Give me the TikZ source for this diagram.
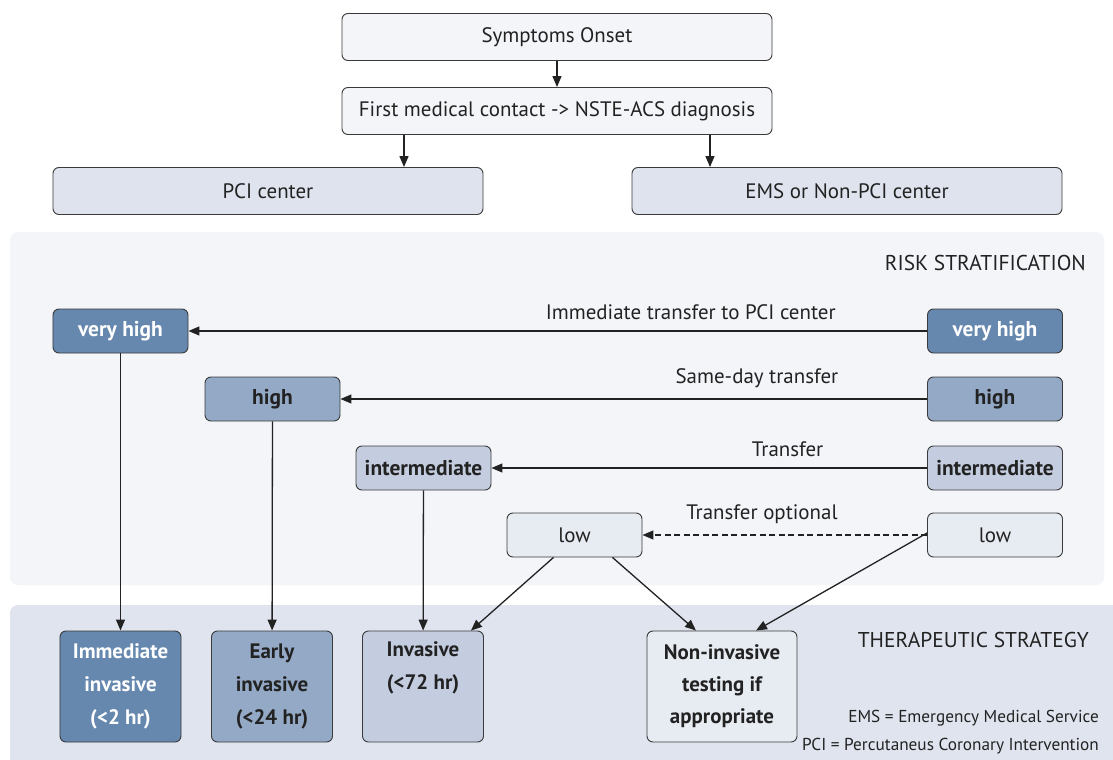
\documentclass[tikz,border=0pt]{standalone}
\usepackage{fontspec}
\setmainfont{PT Sans}
\usetikzlibrary{arrows.meta}
\definecolor{vh}{HTML}{6688AE}
\definecolor{hi}{HTML}{93A9C6}
\definecolor{im}{HTML}{C4CDE0}
\definecolor{lo}{HTML}{E7EBF2}
\definecolor{pale}{HTML}{F4F5F9}
\definecolor{ctr}{HTML}{DEE3ED}
\definecolor{riskbg}{HTML}{F3F5F9}
\definecolor{therbg}{HTML}{DFE4EE}
\definecolor{edge}{HTML}{3A3A3A}
\definecolor{ink}{HTML}{222222}
\begin{document}
\begin{tikzpicture}[x=1bp,y=-1bp,
  box/.style={draw=edge, line width=0.9bp, rounded corners=6bp, inner sep=0pt, text=ink,
    font=\fontsize{21}{24}\selectfont},
  topbox/.style={box, minimum width=430bp, minimum height=47bp},
  riskbox/.style={box, minimum width=135bp, minimum height=44bp, font=\fontsize{21.5}{24}\selectfont\bfseries},
  stratbox/.style={box, minimum width=121bp, minimum height=111bp, align=center,
    font=\fontsize{21}{33}\selectfont\bfseries},
  arr/.style={draw=ink, line width=1.3bp, -{Triangle[length=11bp,width=9bp]}},
  lbl/.style={font=\fontsize{21}{24}\selectfont, text=ink, inner sep=0pt, above=11bp},
  heading/.style={font=\fontsize{21.5}{24}\selectfont, text=ink, inner sep=0pt, anchor=east},
  legend/.style={font=\fontsize{17.3}{20}\selectfont, text=ink, inner sep=0pt, anchor=east}
]
\useasboundingbox (0,0) rectangle (1113,760);
\fill[white] (0,0) rectangle (1113,760);
% panels
\fill[riskbg, rounded corners=8bp] (10,232) rectangle (1104,585);
\begin{scope}
  \clip (0,0) rectangle (1113,760);
  \fill[therbg, rounded corners=8bp] (10,605) rectangle (1130,780);
\end{scope}
\node[heading] (rs) at (1086,263) {RISK STRATIFICATION};
\node[heading] (ts) at (1089,640) {THERAPEUTIC STRATEGY};

% top flow
\node[topbox, fill=pale] (so) at (557,37) {Symptoms Onset};
\node[topbox, fill=pale] (fm) at (557,111) {First medical contact -> NSTE-ACS diagnosis};
\node[topbox, fill=ctr] (pci) at (268,191) {PCI center};
\node[topbox, fill=ctr] (ems) at (847,191) {EMS or Non-PCI center};
\coordinate (pcix) at (404,0);
\coordinate (emsx) at (710,0);
\draw[arr] (so) -- (fm);
\draw[arr] (fm.south -| pcix) -- (pci.north -| pcix);
\draw[arr] (fm.south -| emsx) -- (ems.north -| emsx);

% risk boxes
\node[riskbox, fill=vh, text=white] (vhL) at (120.5,331) {very high};
\node[riskbox, fill=vh, text=white] (vhR) at (995,331) {very high};
\node[riskbox, fill=hi] (hiL) at (272.5,399) {high};
\node[riskbox, fill=hi] (hiR) at (995,399) {high};
\node[riskbox, fill=im] (imL) at (423.5,468) {intermediate};
\node[riskbox, fill=im] (imR) at (995,468) {intermediate};
\node[riskbox, fill=lo, font=\fontsize{21}{24}\selectfont] (loL) at (574.5,535) {low};
\node[riskbox, fill=lo, font=\fontsize{21}{24}\selectfont] (loR) at (995,535) {low};

\draw[arr] (vhR) -- node[lbl, pos=0.32] {Immediate transfer to PCI center} (vhL);
\draw[arr] (hiR) -- node[lbl, pos=0.29] {Same-day transfer} (hiL);
\draw[arr] (imR) -- node[lbl, pos=0.32] {Transfer} (imL);
\draw[arr, dashed, dash pattern=on 6bp off 3.5bp] (loR) -- node[lbl, pos=0.58] {Transfer optional} (loL);

% strategy boxes
\node[stratbox, fill=vh, text=white] (imm) at (120.5,686.5) {Immediate\\invasive\\(<2 hr)};
\node[stratbox, fill=hi] (early) at (272,686.5) {Early\\invasive\\(<24 hr)};
\node[stratbox, fill=im] (inv) at (423,686.5) {Invasive\\(<72 hr)\\\strut};
\node[stratbox, fill=lo, minimum width=150bp, font=\fontsize{21}{32}\selectfont\bfseries] (non) at (722,686.5) {Non-invasive\\testing if\\appropriate};

\draw[arr] (vhL) -- (imm);
\draw[arr] (hiL) -- (early);
\draw[arr] (imL) -- (inv);
\draw[arr] ([xshift=-21bp]loL.south) -- ([xshift=-13bp]inv.north east);
\draw[arr] ([xshift=38bp]loL.south) -- ([xshift=-26bp]non.north);
\draw[arr] ([yshift=2bp]loR.west) -- ([xshift=34bp]non.north);

% legend
\node[legend] (l1) at (1099,718) {EMS = Emergency Medical Service};
\node[legend] (l2) at (1099,746) {PCI = Percutaneus Coronary Intervention};
\end{tikzpicture}
\end{document}
